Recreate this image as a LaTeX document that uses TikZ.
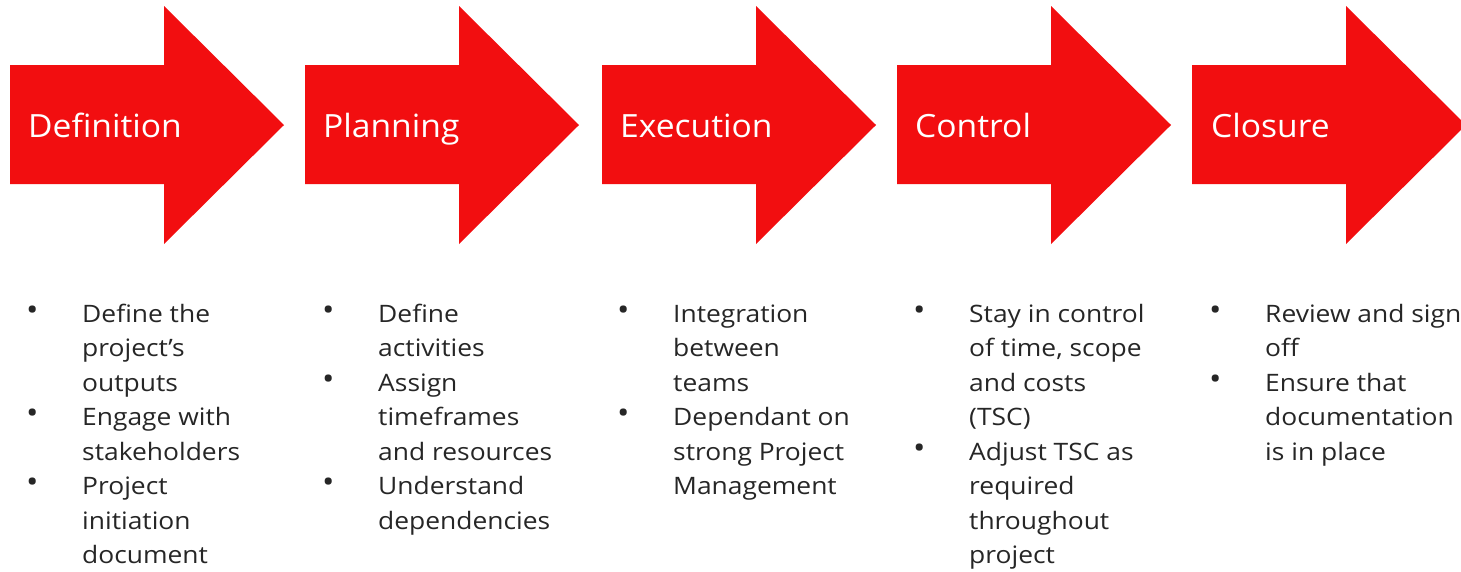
\documentclass[tikz,border=0pt]{standalone}
\usepackage{fontspec}
\setmainfont[FakeStretch=1.1]{Open Sans}
\newfontfamily\titlefont[FakeStretch=1.05]{Open Sans}
\definecolor{arrowred}{RGB}{242,14,16}
\definecolor{txt}{RGB}{38,38,38}
\begin{document}
\begin{tikzpicture}[x=1pt,y=-1pt,
  title/.style={anchor=base west, text=white, font=\titlefont\fontsize{32}{40}\selectfont, inner sep=0},
  item/.style={anchor=base west, text=txt, font=\fontsize{24}{34.5}\selectfont, inner sep=0, align=left},
  bul/.style={anchor=base west, text=txt, font=\fontsize{30}{34.5}\selectfont, inner sep=0}]
\useasboundingbox (0,0) rectangle (1461,571);
% arrows
\foreach \x in {10,305,602,897,1192}{
  \fill[arrowred] (\x,65) -- (\x+154,65) -- (\x+154,6) -- (\x+274,125) -- (\x+154,244) -- (\x+154,184) -- (\x,184) -- cycle;
}
% titles
\node[title] (t1) at (28,137) {Definition};
\node[title] (t2) at (323,137) {Planning};
\node[title] (t3) at (620,137) {Execution};
\node[title] (t4) at (915,137) {Control};
\node[title] (t5) at (1211,137) {Closure};
% column 1 (anchors at last-line baselines)
\node[bul] (b11) at (26,320) {•};
\node[item] (i11) at (82,391) {Define the\\project’s\\outputs};
\node[bul] (b12) at (26,423.5) {•};
\node[item] (i12) at (82,460) {Engage with\\stakeholders};
\node[bul] (b13) at (26,492.5) {•};
\node[item] (i13) at (82,563.5) {Project\\initiation\\document};
% column 2
\node[bul] (b21) at (322,320) {•};
\node[item] (i21) at (378,356.5) {Define\\activities};
\node[bul] (b22) at (322,389) {•};
\node[item] (i22) at (378,460) {Assign\\timeframes\\and resources};
\node[bul] (b23) at (322,492.5) {•};
\node[item] (i23) at (378,529) {Understand\\dependencies};
% column 3
\node[bul] (b31) at (617,320) {•};
\node[item] (i31) at (673,391) {Integration\\between\\teams};
\node[bul] (b32) at (617,423.5) {•};
\node[item] (i32) at (673,494.5) {Dependant on\\strong Project\\Management};
% column 4
\node[bul] (b41) at (913,320) {•};
\node[item] (i41) at (969,425.5) {Stay in control\\of time, scope\\and costs\\(TSC)};
\node[bul] (b42) at (913,458) {•};
\node[item] (i42) at (969,563.5) {Adjust TSC as\\required\\throughout\\project};
% column 5
\node[bul] (b51) at (1209,320) {•};
\node[item] (i51) at (1265,356.5) {Review and sign\\off};
\node[bul] (b52) at (1209,389) {•};
\node[item] (i52) at (1265,460) {Ensure that\\documentation\\is in place};
\end{tikzpicture}
\end{document}
